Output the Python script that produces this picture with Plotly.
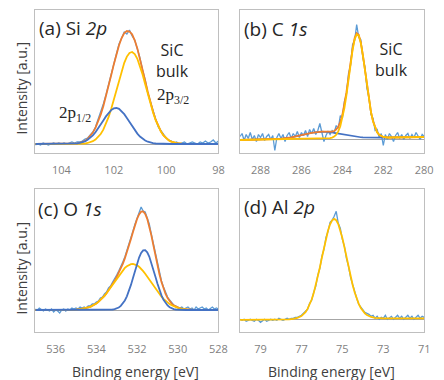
import plotly.graph_objects as go

# ---------------- (a) Si 2p ----------------
si_raw_e = [105.0, 104.9, 104.8, 104.7, 104.6, 104.5, 104.4, 104.3, 104.2, 104.1,
            104.0, 103.9, 103.8, 103.7, 103.6, 103.5, 103.4, 103.3, 103.2, 103.1,
            103.0, 102.9, 102.8, 102.7, 102.6, 102.5, 102.4, 102.3, 102.2, 102.1,
            102.0, 101.9, 101.8, 101.7, 101.6, 101.5, 101.4, 101.3, 101.2, 101.1,
            101.0, 100.9, 100.8, 100.7, 100.6, 100.5, 100.4, 100.3, 100.2, 100.1,
            100.0, 99.9, 99.8, 99.7, 99.6, 99.5, 99.4, 99.3, 99.2, 99.1,
            99.0, 98.9, 98.8, 98.7, 98.6, 98.5, 98.4, 98.3, 98.2, 98.1, 98.0]
si_raw_i = [-1, 0, -1, 1, 0, -1, 0, 1, 0, 1,
            0, 1, 0, 1, 2, 1, 2, 2, 3, 5,
            6, 9, 12, 17, 24, 31, 40, 49, 60, 70,
            81, 90, 100, 106, 112, 110, 114, 108, 104, 95,
            86, 74, 64, 51, 42, 32, 25, 17, 13, 9,
            6, 4, 3, 1, 2, 0, 1, 2, 0, 1,
            2, 1, 0, 2, 1, 3, 1, 2, 4, 1, 3]
si_fit_e = [105.0, 104.0, 103.6, 103.4, 103.3, 103.2, 103.1, 103.0, 102.9, 102.8,
            102.7, 102.6, 102.5, 102.4, 102.3, 102.2, 102.1, 102.0, 101.9, 101.8,
            101.7, 101.6, 101.5, 101.4, 101.3, 101.2, 101.1, 101.0, 100.9, 100.8,
            100.7, 100.6, 100.5, 100.4, 100.3, 100.2, 100.1, 100.0, 99.9, 99.8,
            99.7, 99.6, 99.4, 99.0, 98.0]
si_fit_total = [0, 0, 0.2, 0.6, 1.2, 1.9, 3.1, 5.2, 7.8, 11.4,
                16.1, 22.1, 29.3, 37.8, 47.5, 57.9, 68.8, 79.6, 89.8, 98.8,
                106.0, 111.0, 113.0, 112.5, 109.7, 103.7, 95.6, 85.6, 74.8, 63.3,
                52.1, 41.6, 32.4, 24.3, 17.8, 12.6, 8.7, 5.7, 3.7, 2.3,
                1.4, 0.8, 0.3, 0, 0]
si_fit_p32 = [0, 0, 0, 0, 0.1, 0.2, 0.4, 1.0, 1.7, 2.8,
              4.4, 6.8, 10.0, 14.3, 19.9, 26.8, 34.9, 44.0, 53.8, 63.7,
              73.1, 81.2, 87.4, 91.1, 92.0, 89.9, 85.2, 78.1, 69.5, 59.8,
              49.8, 40.2, 31.5, 23.8, 17.5, 12.4, 8.6, 5.7, 3.7, 2.3,
              1.4, 0.8, 0.3, 0, 0]
si_fit_p12 = [0, 0, 0.2, 0.6, 1.1, 1.7, 2.7, 4.2, 6.1, 8.6,
              11.7, 15.3, 19.3, 23.5, 27.6, 31.1, 33.9, 35.6, 36.0, 35.1,
              32.9, 29.8, 26.0, 21.8, 17.7, 13.8, 10.4, 7.5, 5.3, 3.5,
              2.3, 1.4, 0.9, 0.5, 0.3, 0.2, 0.1, 0, 0, 0,
              0, 0, 0, 0, 0]
si_ticks = [104, 102, 100, 98]

# ---------------- (b) C 1s ----------------
c_raw_e = [289.0, 288.9, 288.8, 288.7, 288.6, 288.5, 288.4, 288.3, 288.2, 288.1,
           288.0, 287.9, 287.8, 287.7, 287.6, 287.5, 287.4, 287.3, 287.2, 287.1,
           287.0, 286.9, 286.8, 286.7, 286.6, 286.5, 286.4, 286.3, 286.2, 286.1,
           286.0, 285.9, 285.8, 285.7, 285.6, 285.5, 285.4, 285.3, 285.2, 285.1,
           285.0, 284.9, 284.8, 284.7, 284.6, 284.5, 284.4, 284.3, 284.2, 284.1,
           284.0, 283.9, 283.8, 283.7, 283.6, 283.5, 283.4, 283.3, 283.2, 283.1,
           283.0, 282.9, 282.8, 282.7, 282.6, 282.5, 282.4, 282.3, 282.2, 282.1,
           282.0, 281.9, 281.8, 281.7, 281.6, 281.5, 281.4, 281.3, 281.2, 281.1,
           281.0, 280.9, 280.8, 280.7, 280.6, 280.5, 280.4, 280.3, 280.2, 280.1, 280.0]
c_raw_i = [3, 6, -1, 5, 1, 7, 0, 4, -2, 5,
           2, 6, -1, 3, 5, 0, 4, -11, 2, 6,
           1, 5, -2, 4, 7, 1, 6, 3, 8, 2,
           7, 4, 9, 3, 10, 6, 11, 5, 9, 16,
           7, -2, 4, 8, 5, 9, 7, 14, 11, 24,
           21, 38, 45, 66, 74, 95, 99, 115, 102, 100,
           82, 73, 51, 42, 25, 21, 9, 10, 2, 6,
           -6, 5, 0, 6, 3, -2, 4, 7, 1, 5,
           0, 4, 6, 1, 5, 2, 7, 3, 0, 5, 3]
c_fit_e = [289.0, 288.5, 288.0, 287.5, 287.0, 286.5, 286.0, 285.5, 285.0, 284.8,
           284.6, 284.5, 284.4, 284.3, 284.2, 284.1, 284.0, 283.9, 283.8, 283.7,
           283.6, 283.5, 283.4, 283.3, 283.2, 283.1, 283.0, 282.9, 282.8, 282.7,
           282.6, 282.5, 282.4, 282.3, 282.2, 282.1, 282.0, 281.8, 281.5, 281.0,
           280.5, 280.0]
c_fit_total = [-0.5, -0.33, -0.14, 0.15, 0.76, 2.07, 4.28, 6.67, 7.83, 7.8,
               7.7, 7.9, 8.5, 10.1, 12.8, 17.5, 24.7, 34.6, 47.3, 62.2,
               77.4, 91.2, 101.5, 106.3, 104.8, 97.3, 84.9, 69.8, 54.2, 39.6,
               27.4, 18.2, 11.6, 7.3, 4.8, 3.2, 2.5, 2.0, 2.0, 2.17,
               2.33, 2.5]
c_fit_bulk = [-0.5, -0.33, -0.17, 0, 0.17, 0.33, 0.5, 0.67, 0.83, 0.97,
              1.4, 1.9, 2.9, 4.9, 8.1, 13.2, 20.9, 31.3, 44.4, 59.7,
              75.3, 89.5, 100.1, 105.1, 103.8, 96.5, 84.3, 69.3, 53.8, 39.3,
              27.2, 18.0, 11.5, 7.2, 4.7, 3.2, 2.5, 2.0, 2.0, 2.17,
              2.33, 2.5]
c_fit_minor = [-0.5, -0.33, -0.14, 0.15, 0.76, 2.07, 4.28, 6.67, 7.83, 7.73,
               7.31, 7.0, 6.63, 6.27, 5.8, 5.38, 4.95, 4.5, 4.13, 3.77,
               3.4, 3.07, 2.81, 2.58, 2.38, 2.22, 2.09, 1.99, 1.93, 1.88,
               1.84, 1.82, 1.81, 1.81, 1.83, 1.84, 1.86, 1.9, 2.0, 2.17,
               2.33, 2.5]
c_ticks = [288, 286, 284, 282, 280]

# ---------------- (c) O 1s ----------------
o_raw_e = [537.0, 536.9, 536.8, 536.7, 536.6, 536.5, 536.4, 536.3, 536.2, 536.1,
           536.0, 535.9, 535.8, 535.7, 535.6, 535.5, 535.4, 535.3, 535.2, 535.1,
           535.0, 534.9, 534.8, 534.7, 534.6, 534.5, 534.4, 534.3, 534.2, 534.1,
           534.0, 533.9, 533.8, 533.7, 533.6, 533.5, 533.4, 533.3, 533.2, 533.1,
           533.0, 532.9, 532.8, 532.7, 532.6, 532.5, 532.4, 532.3, 532.2, 532.1,
           532.0, 531.9, 531.8, 531.7, 531.6, 531.5, 531.4, 531.3, 531.2, 531.1,
           531.0, 530.9, 530.8, 530.7, 530.6, 530.5, 530.4, 530.3, 530.2, 530.1,
           530.0, 529.9, 529.8, 529.7, 529.6, 529.5, 529.4, 529.3, 529.2, 529.1,
           529.0, 528.9, 528.8, 528.7, 528.6, 528.5, 528.4, 528.3, 528.2, 528.1, 528.0]
o_raw_i = [1, 0, 2, 0, -1, 1, 0, -1, 1, -2,
           0, -1, -3, 0, 1, -1, 1, 0, 2, 1,
           2, 1, 3, 2, 3, 2, 4, 4, 6, 6,
           8, 9, 12, 13, 16, 18, 22, 24, 28, 31,
           35, 39, 43, 48, 53, 59, 65, 72, 79, 86,
           92, 97, 103, 99, 98, 92, 86, 76, 66, 56,
           46, 37, 29, 23, 17, 13, 10, 7, 5, 4,
           3, 2, 3, 1, 2, 3, 1, 2, 0, 3,
           1, 2, 3, 1, 2, 0, 2, 3, 1, 2, 1]
o_fit_e = [537.0, 536.0, 535.5, 535.0, 534.8, 534.6, 534.5, 534.4, 534.3, 534.2,
           534.1, 534.0, 533.9, 533.8, 533.7, 533.6, 533.5, 533.4, 533.3, 533.2,
           533.1, 533.0, 532.9, 532.8, 532.7, 532.6, 532.5, 532.4, 532.3, 532.2,
           532.1, 532.0, 531.9, 531.8, 531.7, 531.6, 531.5, 531.4, 531.3, 531.2,
           531.1, 531.0, 530.9, 530.8, 530.7, 530.6, 530.5, 530.4, 530.3, 530.2,
           530.1, 530.0, 529.9, 529.8, 529.6, 529.4, 529.2, 529.0, 528.0]
o_fit_total = [0, 0, 0.1, 0.4, 0.8, 1.4, 1.9, 2.5, 3.2, 4.1,
               5.2, 6.5, 8.1, 9.9, 11.9, 14.2, 16.7, 19.6, 22.6, 25.9,
               29.3, 33.1, 37.1, 41.5, 46.2, 51.6, 57.5, 64.0, 70.9, 78.0,
               84.9, 91.0, 95.6, 98.3, 98.5, 96.1, 91.1, 83.9, 74.9, 64.9,
               54.7, 44.9, 35.8, 27.9, 21.3, 16.0, 11.9, 8.7, 6.4, 4.6,
               3.4, 2.5, 1.8, 1.2, 0.7, 0.3, 0.15, 0.05, 0]
o_fit_broad = [0, 0, 0.1, 0.4, 0.8, 1.4, 1.9, 2.5, 3.2, 4.1,
               5.2, 6.5, 8.1, 9.9, 11.9, 14.2, 16.7, 19.5, 22.4, 25.4,
               28.5, 31.6, 34.6, 37.4, 39.9, 42.1, 43.8, 45.1, 45.8, 46.0,
               45.6, 44.7, 43.2, 41.3, 38.9, 36.3, 33.4, 30.4, 27.3, 24.2,
               21.2, 18.4, 15.7, 13.3, 11.1, 9.1, 7.4, 5.9, 4.7, 3.7,
               2.9, 2.2, 1.7, 1.2, 0.7, 0.3, 0.15, 0.05, 0]
o_fit_narrow = [0, 0, 0, 0, 0, 0, 0, 0, 0, 0,
                0, 0, 0, 0, 0, 0, 0, 0.1, 0.2, 0.5,
                0.8, 1.5, 2.5, 4.1, 6.3, 9.5, 13.7, 18.9, 25.1, 32.0,
                39.3, 46.3, 52.4, 57.0, 59.6, 59.8, 57.7, 53.5, 47.6, 40.7,
                33.5, 26.5, 20.1, 14.6, 10.2, 6.9, 4.5, 2.8, 1.7, 0.9,
                0.5, 0.3, 0.1, 0, 0, 0, 0, 0, 0]
o_ticks = [536, 534, 532, 530, 528]

# ---------------- (d) Al 2p ----------------
al_raw_e = [80.0, 79.9, 79.8, 79.7, 79.6, 79.5, 79.4, 79.3, 79.2, 79.1,
            79.0, 78.9, 78.8, 78.7, 78.6, 78.5, 78.4, 78.3, 78.2, 78.1,
            78.0, 77.9, 77.8, 77.7, 77.6, 77.5, 77.4, 77.3, 77.2, 77.1,
            77.0, 76.9, 76.8, 76.7, 76.6, 76.5, 76.4, 76.3, 76.2, 76.1,
            76.0, 75.9, 75.8, 75.7, 75.6, 75.5, 75.4, 75.3, 75.2, 75.1,
            75.0, 74.9, 74.8, 74.7, 74.6, 74.5, 74.4, 74.3, 74.2, 74.1,
            74.0, 73.9, 73.8, 73.7, 73.6, 73.5, 73.4, 73.3, 73.2, 73.1,
            73.0, 72.9, 72.8, 72.7, 72.6, 72.5, 72.4, 72.3, 72.2, 72.1,
            72.0, 71.9, 71.8, 71.7, 71.6, 71.5, 71.4, 71.3, 71.2, 71.1, 71.0]
al_raw_i = [0, -1, 0, -2, -1, 0, -1, -2, 0, -1,
            -3, -1, 0, -2, -1, 0, -1, 0, -1, 1,
            0, -1, 0, 1, 0, 1, 1, 2, 2, 3,
            4, 6, 8, 10, 16, 19, 27, 33, 44, 51,
            63, 70, 82, 88, 97, 99, 103, 108, 96, 91,
            80, 73, 61, 53, 42, 35, 26, 21, 15, 12,
            9, 7, 6, 5, 3, 4, 1, 3, 0, 2,
            1, 4, 0, 2, 3, 0, 2, 4, 1, 3,
            0, 2, 4, 1, 3, 0, 2, 4, 1, 3, 2]
al_fit_e = [80.0, 79.0, 78.0, 77.6, 77.4, 77.2, 77.0, 76.9, 76.8, 76.7,
            76.6, 76.5, 76.4, 76.3, 76.2, 76.1, 76.0, 75.9, 75.8, 75.7,
            75.6, 75.5, 75.4, 75.3, 75.2, 75.1, 75.0, 74.9, 74.8, 74.7,
            74.6, 74.5, 74.4, 74.3, 74.2, 74.1, 74.0, 73.9, 73.8, 73.6,
            73.4, 73.0, 72.0, 71.0]
al_fit = [-0.5, -0.5, -0.3, 0, 0.5, 1.3, 3.2, 4.9, 7.2, 10.4,
          14.5, 19.8, 26.2, 33.8, 42.4, 51.8, 61.8, 71.7, 80.9, 88.8,
          95.0, 99.0, 100.4, 99.1, 95.3, 89.1, 81.3, 72.2, 62.4, 52.5,
          43.2, 34.6, 27.0, 20.6, 15.4, 11.3, 8.2, 5.9, 4.2, 2.3,
          1.5, 1.0, 1.0, 1.0]
al_ticks = [79, 77, 75, 73, 71]

# ---------------- styling ----------------
W, H = 444, 380
RAW = "#5B9BD5"
ORANGE = "#ED7D31"
YELLOW = "#FFC000"
BLUE = "#4472C4"
BOX = "#BFBFBF"
BASE = "#A6A6A6"
TICKC = "#7F7F7F"
TEXT = "#404040"
FONT = "Open Sans, Noto Sans, sans-serif"
SERIF = "Liberation Serif, DejaVu Serif, serif"


def px_x(p):
    return p / W


def px_y(p):
    return 1 - p / H


fig = go.Figure()


def add_line(ax, x, y, color, width):
    fig.add_trace(go.Scatter(x=x, y=y, mode="lines", xaxis="x" + ax, yaxis="y" + ax,
                             line=dict(color=color, width=width), hoverinfo="skip",
                             showlegend=False))


# panel a
add_line("", si_raw_e, si_raw_i, RAW, 1.3)
add_line("", si_fit_e, si_fit_total, ORANGE, 1.8)
add_line("", si_fit_e, si_fit_p32, YELLOW, 1.8)
add_line("", si_fit_e, si_fit_p12, BLUE, 1.8)
# panel b
add_line("2", c_raw_e, c_raw_i, RAW, 1.3)
add_line("2", c_fit_e, c_fit_minor, BLUE, 1.6)
add_line("2", c_fit_e, c_fit_total, ORANGE, 1.8)
add_line("2", c_fit_e, c_fit_bulk, YELLOW, 1.8)
# panel c
add_line("3", o_raw_e, o_raw_i, RAW, 1.3)
add_line("3", o_fit_e, o_fit_total, ORANGE, 1.8)
add_line("3", o_fit_e, o_fit_broad, YELLOW, 1.8)
add_line("3", o_fit_e, o_fit_narrow, BLUE, 1.8)
# panel d
add_line("4", al_raw_e, al_raw_i, RAW, 1.3)
add_line("4", al_fit_e, al_fit, YELLOW, 1.8)

xdom_left = [px_x(36), px_x(223)]
xdom_right = [px_x(245), px_x(433)]
ydom_top = [px_y(153), px_y(10)]
ydom_bot = [px_y(332), px_y(189)]


def xaxis(dom, rng, ticks, anchor):
    return dict(domain=dom, range=rng, tickvals=ticks, ticktext=[str(t) for t in ticks],
                anchor=anchor, showline=True, linecolor=BOX, linewidth=1.3, mirror=True,
                showgrid=False, zeroline=False, ticks="", ticklabelstandoff=7,
                tickfont=dict(family=FONT, size=11, color=TICKC), fixedrange=True)


def yaxis(dom, rng, anchor):
    return dict(domain=dom, range=rng, anchor=anchor, showline=True, linecolor=BOX,
                linewidth=1.3, mirror=True, showgrid=False, showticklabels=False,
                ticks="", zeroline=True, zerolinecolor=BASE, zerolinewidth=1.3,
                fixedrange=True)


annotations = []


def note(text, x, y, size, color="#262626", family=FONT, xanchor="center", angle=0):
    annotations.append(dict(text=text, x=px_x(x), y=px_y(y), xref="paper", yref="paper",
                            showarrow=False, xanchor=xanchor, yanchor="middle",
                            textangle=angle, font=dict(family=family, size=size, color=color)))


note("(a) Si <i>2p</i>", 38, 28, 19, xanchor="left")
note("(b) C <i>1s</i>", 247, 29, 19, xanchor="left")
note("(c) O <i>1s</i>", 37, 209, 19, xanchor="left")
note("(d) Al <i>2p</i>", 247, 207, 19, xanchor="left")
note("SiC<br>bulk", 176, 60, 16)
note("SiC<br>bulk", 400, 59, 16)
note("2p<sub>3/2</sub>", 177, 96, 17, family=SERIF)
note("2p<sub>1/2</sub>", 77, 114, 17, family=SERIF)
note("Intensity [a.u.]", 21, 88, 14, color=TEXT, angle=-90)
note("Intensity [a.u.]", 21, 268, 14, color=TEXT, angle=-90)
note("Binding energy [eV]", 138, 371, 14, color=TEXT)
note("Binding energy [eV]", 338, 371, 14, color=TEXT)

fig.update_layout(
    width=W, height=H,
    margin=dict(l=0, r=0, t=0, b=0),
    paper_bgcolor="white", plot_bgcolor="white",
    showlegend=False,
    xaxis=xaxis(xdom_left, [105, 98], si_ticks, "y"),
    yaxis=yaxis(ydom_top, [-9, 134], "x"),
    xaxis2=xaxis(xdom_right, [289, 280], c_ticks, "y2"),
    yaxis2=yaxis(ydom_top, [-13.5, 129.5], "x2"),
    xaxis3=xaxis(xdom_left, [537, 528], o_ticks, "y3"),
    yaxis3=yaxis(ydom_bot, [-22, 121], "x3"),
    xaxis4=xaxis(xdom_right, [80, 71], al_ticks, "y4"),
    yaxis4=yaxis(ydom_bot, [-12.7, 130.3], "x4"),
    annotations=annotations,
)

fig.write_html("out.html", config={"displayModeBar": False},
               post_script="document.body.style.margin='0';document.body.style.overflow='hidden';")
